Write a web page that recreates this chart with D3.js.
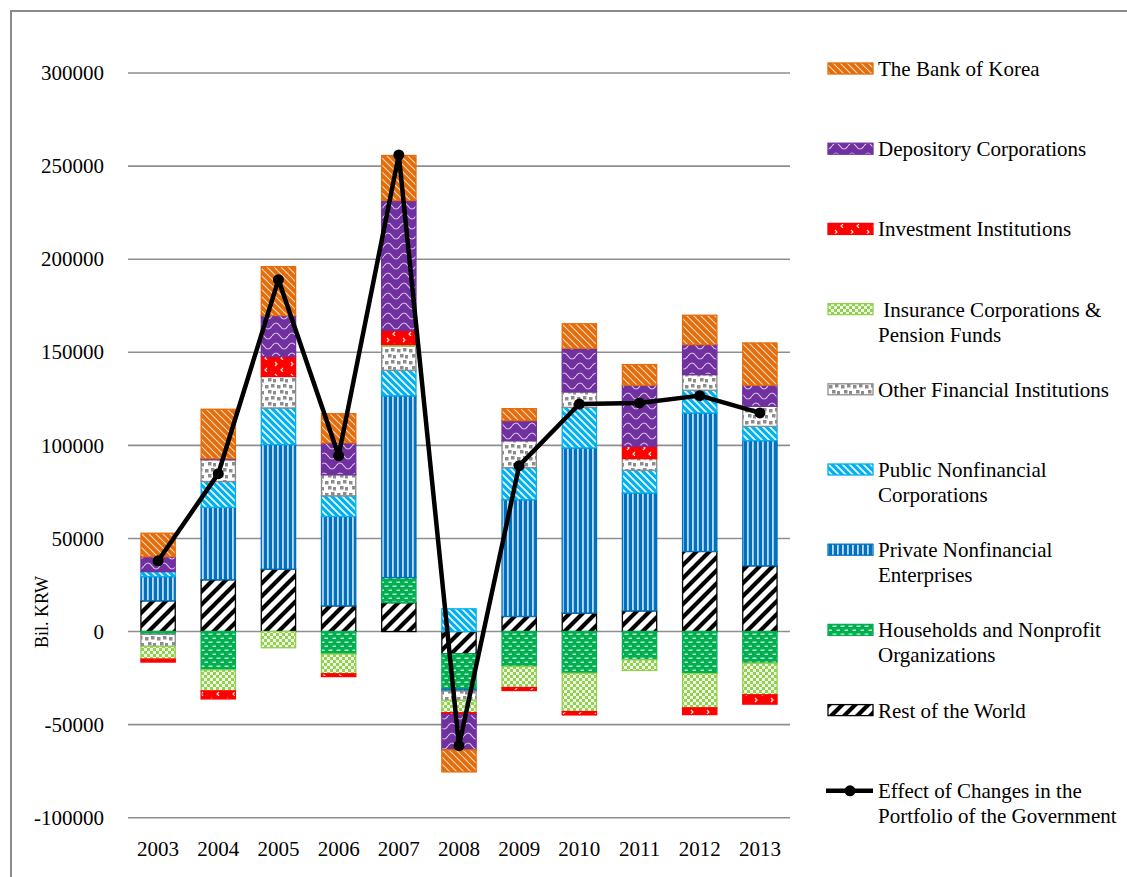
<!DOCTYPE html>
<html>
<head>
<meta charset="utf-8">
<script src="https://cdn.jsdelivr.net/npm/d3@7"></script>
<style>
  html, body { margin: 0; padding: 0; background: #fff; }
  svg { display: block; font-family: "Liberation Serif", "Times New Roman", serif; }
</style>
</head>
<body>
<svg id="chart" width="1127" height="877"></svg>
<script>
// Sources of change in holdings, Bil. KRW, 2003-2013
const years = ["2003","2004","2005","2006","2007","2008","2009","2010","2011","2012","2013"];

const restOfWorld   = [16500, 27800, 33500, 13800, 15500, -12000,  8100,  9900, 11100, 43000, 35300];
const households    = [-1500, -20600,    0, -12100, 13500, -19000, -18800, -22400, -15200, -22600, -17000];
const privateNonfin = [13000, 38900, 66900, 48000, 97600,  -1000, 62700, 88700, 63300, 74400, 67200];
const publicNonfin  = [ 2700, 13900, 19700, 11100, 13700,  12200, 17200, 21800, 12200, 12200,  7700];
const otherFin      = [-6500, 11700, 16900, 11300, 13000,  -5000, 14500,  8300,  6300,  8400, 10800];
const insurance     = [-6800, -11300, -8700, -10600,  800,  -6600, -11300, -20600, -5700, -18400, -17000];
const investment    = [-1600, -4300, 10700, -1500,  7700,  -1000,  -1600,  -1800,  6600,  -3600,  -5000];
const depository    = [ 8000,   600, 22000, 17100, 69700, -19000, 10800, 23400, 32800, 16100, 11300];
const bankOfKorea   = [12600, 26500, 26300, 15700, 24200, -11800,  6400, 13200, 11100, 15800, 22700];
const govtEffect    = [38000, 84800, 189000, 94500, 256000, -61300, 89100, 122200, 122800, 126700, 117400];

const yTicks = [-100000, -50000, 0, 50000, 100000, 150000, 200000, 250000, 300000];

// Stack order (bottom to top), each with its own fill pattern
const series = [
  { key: "row",  name: ["Rest of the World"],                       values: restOfWorld,   stroke: "#000000" },
  { key: "hh",   name: ["Households and Nonprofit", "Organizations"], values: households,  stroke: "#00B050" },
  { key: "priv", name: ["Private Nonfinancial", "Enterprises"],      values: privateNonfin, stroke: "#0070C0" },
  { key: "pub",  name: ["Public Nonfinancial", "Corporations"],      values: publicNonfin,  stroke: "#00B0F0" },
  { key: "oth",  name: ["Other Financial Institutions"],             values: otherFin,      stroke: "#8C8C8C" },
  { key: "ins",  name: [" Insurance Corporations &", "Pension Funds"], values: insurance,   stroke: "#92D050" },
  { key: "inv",  name: ["Investment Institutions"],                  values: investment,    stroke: "#FF0000" },
  { key: "dep",  name: ["Depository Corporations"],                  values: depository,    stroke: "#7030A0" },
  { key: "bok",  name: ["The Bank of Korea"],                        values: bankOfKorea,   stroke: "#E46C0A" }
];

const svg = d3.select("#chart");
const defs = svg.append("defs");

function pattern(id, w, h, bg, draw) {
  const p = defs.append("pattern")
    .attr("id", id).attr("patternUnits", "userSpaceOnUse")
    .attr("width", w).attr("height", h);
  p.append("rect").attr("width", w).attr("height", h).attr("fill", bg);
  draw(p);
}

pattern("p-bok", 7, 7, "#E46C0A", p => p.append("path")
  .attr("d", "M-1,-1L8,8M-1,6L1,8M6,-1L8,1")
  .attr("stroke", "#fff").attr("stroke-width", 1.1).attr("opacity", 0.75));
pattern("p-dep", 16, 10, "#7030A0", p => p.append("path")
  .attr("d", "M0,6Q4,0 8,6T16,6")
  .attr("fill", "none").attr("stroke", "#fff").attr("stroke-width", 1.2).attr("opacity", 0.7));
pattern("p-inv", 16, 12, "#FF0000", p => p.append("path")
  .attr("d", "M3,2l2,2l-2,2M11,8l-2,2l2,2")
  .attr("fill", "none").attr("stroke", "#fff").attr("stroke-width", 1.2).attr("opacity", 0.9));
pattern("p-ins", 6, 6, "#92D050", p => {
  p.append("rect").attr("x", 0).attr("y", 0).attr("width", 3).attr("height", 3).attr("fill", "#fff").attr("opacity", 0.85);
  p.append("rect").attr("x", 3).attr("y", 3).attr("width", 3).attr("height", 3).attr("fill", "#fff").attr("opacity", 0.85);
});
pattern("p-oth", 12, 12, "#ffffff", p => {
  [[1,1],[7,0],[4,6],[9,7]].forEach(([x, y]) =>
    p.append("rect").attr("x", x).attr("y", y).attr("width", 3.5).attr("height", 3.5).attr("fill", "#8C8C8C"));
});
pattern("p-pub", 7, 7, "#00B0F0", p => p.append("path")
  .attr("d", "M-1,-1L8,8M-1,6L1,8M6,-1L8,1")
  .attr("stroke", "#fff").attr("stroke-width", 1.8).attr("opacity", 0.9));
pattern("p-priv", 5, 5, "#0070C0", p => p.append("rect")
  .attr("x", 2).attr("y", 0).attr("width", 1.8).attr("height", 5)
  .attr("fill", "#fff").attr("opacity", 0.75));
pattern("p-hh", 8, 8, "#00B050", p => {
  p.append("rect").attr("x", 0.5).attr("y", 1.5).attr("width", 4).attr("height", 1.5).attr("fill", "#fff").attr("opacity", 0.75);
  p.append("rect").attr("x", 4.5).attr("y", 5.5).attr("width", 4).attr("height", 1.5).attr("fill", "#fff").attr("opacity", 0.75);
});
pattern("p-row", 13, 13, "#ffffff", p => p.append("path")
  .attr("d", "M-2,15L15,-2M-2,2L2,-2M11,15L15,11")
  .attr("stroke", "#000").attr("stroke-width", 4.2));

// Outer frame
svg.append("rect")
  .attr("x", 11).attr("y", 11).attr("width", 1200).attr("height", 900)
  .attr("fill", "none").attr("stroke", "#8A8A8A").attr("stroke-width", 2);

const plotLeft = 128, plotRight = 790;
const x = d3.scaleBand().domain(years).range([plotLeft, plotRight]).paddingInner(0.43).paddingOuter(0.215);
const y = d3.scaleLinear().domain([-100000, 300000]).range([817.7, 73]);

// Gridlines
svg.append("g").selectAll("line").data(yTicks).join("line")
  .attr("x1", plotLeft).attr("x2", plotRight)
  .attr("y1", d => y(d)).attr("y2", d => y(d))
  .attr("stroke", "#8F8F8F").attr("stroke-width", 1.6);

// Y axis labels (plain hyphen for negatives)
const yAxis = d3.axisLeft(y).tickValues(yTicks).tickFormat(d => String(d)).tickSize(0).tickPadding(0);
const ya = svg.append("g").attr("transform", "translate(104,0)").call(yAxis);
ya.select(".domain").remove();
ya.selectAll("text").attr("font-size", 21).attr("fill", "#000")
  .attr("font-family", "Liberation Serif, Times New Roman, serif");

// X axis labels
const xAxis = d3.axisBottom(x).tickSize(0).tickPadding(0);
const xa = svg.append("g").attr("transform", "translate(0,841)").call(xAxis);
xa.select(".domain").remove();
xa.selectAll("text").attr("font-size", 21).attr("fill", "#000")
  .attr("font-family", "Liberation Serif, Times New Roman, serif");

// Y axis title
svg.append("text")
  .attr("transform", "translate(48,612) rotate(-90)")
  .attr("text-anchor", "middle").attr("font-size", 18)
  .text("Bil. KRW");

// Stacked bars
const rows = years.map((yr, i) => {
  const r = { year: yr };
  series.forEach(s => { r[s.key] = s.values[i]; });
  return r;
});
const stack = d3.stack().keys(series.map(s => s.key)).offset(d3.stackOffsetDiverging);
const layers = stack(rows);

const barG = svg.append("g");
layers.forEach((layer, li) => {
  const s = series[li];
  barG.append("g").selectAll("rect").data(layer.filter(d => d[1] !== d[0])).join("rect")
    .attr("x", d => x(d.data.year))
    .attr("width", x.bandwidth())
    .attr("y", d => y(Math.max(d[0], d[1])))
    .attr("height", d => Math.abs(y(d[0]) - y(d[1])))
    .attr("fill", `url(#p-${s.key})`)
    .attr("stroke", s.stroke).attr("stroke-width", 1.3);
});

// Government portfolio effect line
const line = d3.line()
  .x((d, i) => x(years[i]) + x.bandwidth() / 2)
  .y(d => y(d));
svg.append("path").datum(govtEffect)
  .attr("d", line).attr("fill", "none")
  .attr("stroke", "#000").attr("stroke-width", 4.5).attr("stroke-linejoin", "round");
svg.append("g").selectAll("circle").data(govtEffect).join("circle")
  .attr("cx", (d, i) => x(years[i]) + x.bandwidth() / 2)
  .attr("cy", d => y(d)).attr("r", 5.5).attr("fill", "#000");

// Legend (top to bottom: reverse of stack order, then the line)
const legendItems = series.slice().reverse().map(s => ({ type: "bar", s }))
  .concat([{ type: "line", s: { name: ["Effect of Changes in the", "Portfolio of the Government"] } }]);
const lg = svg.append("g");
legendItems.forEach((item, i) => {
  const cy = 69 + i * 80.2;
  const g = lg.append("g");
  if (item.type === "bar") {
    g.append("rect").attr("x", 828).attr("y", cy - 6).attr("width", 45).attr("height", 11)
      .attr("fill", `url(#p-${item.s.key})`).attr("stroke", item.s.stroke).attr("stroke-width", 1.3);
  } else {
    g.append("line").attr("x1", 826).attr("x2", 873).attr("y1", cy).attr("y2", cy)
      .attr("stroke", "#000").attr("stroke-width", 4.5);
    g.append("circle").attr("cx", 850).attr("cy", cy).attr("r", 5.5).attr("fill", "#000");
  }
  item.s.name.forEach((t, j) => {
    g.append("text").attr("x", 878).attr("y", cy + 7 + j * 25)
      .attr("font-size", 21).attr("xml:space", "preserve").style("white-space", "pre")
      .text(t);
  });
});
</script>
</body>
</html>
